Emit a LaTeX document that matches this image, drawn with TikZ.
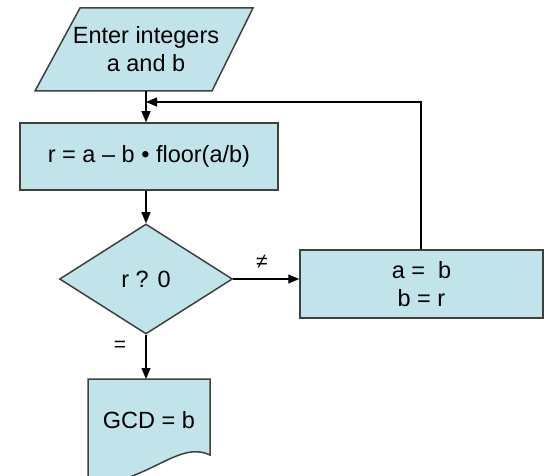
\documentclass[tikz,border=0pt]{standalone}
\usepackage{fontspec}
\setmainfont{Liberation Sans}
\usetikzlibrary{shapes.geometric,arrows.meta}
\definecolor{boxfill}{RGB}{193,228,234}
\definecolor{boxline}{RGB}{64,64,64}
\tikzset{
  shapeline/.style={draw=boxline,line width=1.5pt,fill=boxfill},
  proc/.style={shapeline,rectangle,inner sep=0pt},
  decision/.style={shapeline,diamond,inner sep=0pt},
  txt/.style={inner sep=0pt,align=center,font=\fontsize{23.5}{28}\selectfont},
  flow/.style={line width=1.2pt,-{Triangle[length=11pt,width=9pt]}},
  plain/.style={line width=1.2pt},
  lbl/.style={inner sep=0pt,font=\fontsize{21}{22}\selectfont}
}
\begin{document}
\begin{tikzpicture}[x=1pt,y=-1pt]
\useasboundingbox (0,0) rectangle (544,476);

% input parallelogram
\filldraw[shapeline] (80,8) -- (253,8) -- (212,91) -- (35,91) -- cycle;
\node[txt,minimum width=218pt,minimum height=83pt] (in) at (146,49.5) {Enter integers\\a and b};

% remainder step
\node[proc,minimum width=258pt,minimum height=67pt] (r1) at (149,156.5) {};
\node[txt] at (r1.center) {r = a – b • floor(a/b)};

% test
\node[decision,minimum width=173pt,minimum height=110pt] (d) at (146,279) {};
\node[txt] at (d.center) {r ? 0};

% swap step
\node[proc,minimum width=243pt,minimum height=68pt] (r2) at (421.5,284) {};
\node[txt] at (r2.center) {a =\ \ b\\b = r};

% result document
\coordinate (gtop) at (146,379);
\filldraw[shapeline] (88,379) -- (210,379) -- (210,455)
  .. controls (178,440) and (150,482) .. (88,486) -- cycle;
\node[txt] (gcd) at (149,420) {GCD = b};

% connectors
\coordinate (join) at (146,102);
\draw[flow] (in.south) -- (in.south |- r1.north);
\draw[flow] (r1.south -| d.north) -- (d.north);
\draw[flow] (d.east) -- (d.east -| r2.west);
\draw[flow] (r2.north -| 421,0) -- (421,102) -- (join);
\draw[flow] (d.south) -- (gtop);

% branch labels
\node[lbl] at (262,262) {≠};
\node[lbl] at (120,346) {=};
\end{tikzpicture}
\end{document}
